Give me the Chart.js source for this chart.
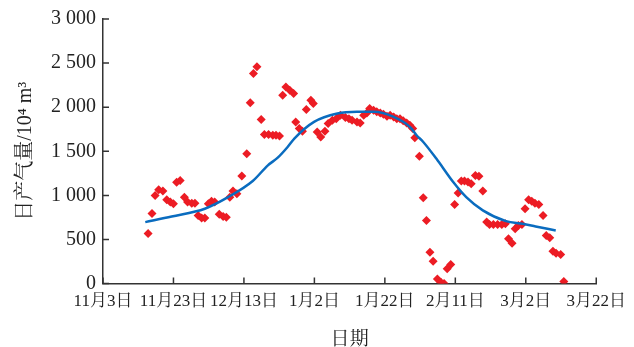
<!DOCTYPE html>
<html>
<head>
<meta charset="utf-8">
<script src="https://cdn.jsdelivr.net/npm/chart.js@4"></script>
<style>
    html, body { margin: 0; padding: 0; background: #fff; }
    #wrap { width: 634px; height: 347px; }
</style>
</head>
<body>
<div id="wrap"><canvas id="gasChart" width="634" height="347"></canvas></div>
<script>
// days counted from 11月3日
const xTickLabels = ['11月3日', '11月23日', '12月13日', '1月2日', '1月22日', '2月11日', '3月2日', '3月22日'];
const yTickLabels = ['0', '500', '1 000', '1 500', '2 000', '2 500', '3 000'];

// daily gas production, 10^4 m^3
const prodDays = [
    12.8, 13.9, 14.8, 15.8, 17.0, 18.1, 19.1, 20.0, 20.9, 21.9,
    23.1, 24.0, 25.2, 26.1, 27.0, 28.0, 28.9, 29.9, 30.8, 31.7,
    33.0, 34.1, 35.0, 36.0, 36.9, 38.0, 39.4, 40.8, 41.8, 42.7,
    43.7, 44.9, 45.8, 47.0, 48.2, 49.1, 50.1, 51.0, 51.9, 53.0,
    54.1, 54.7, 55.7, 56.6, 57.7, 59.0, 59.7, 60.8, 61.8, 63.0,
    63.9, 65.1, 66.2, 67.4, 68.8, 69.8, 70.7, 72.1, 73.0, 74.0,
    74.9, 75.7, 76.8, 77.7, 78.7, 79.6, 80.6, 81.5, 82.5, 83.4,
    84.3, 85.2, 86.2, 87.1, 87.9, 88.5, 89.8, 90.9, 91.8, 92.8,
    93.7, 94.9, 95.9, 96.8, 97.7, 98.7, 99.8, 100.8, 101.7, 102.6,
    103.6, 104.5, 105.7, 106.7, 107.8, 108.9, 109.7, 110.8, 112.0, 113.2,
    114.2, 115.1, 116.1, 117.0, 117.9, 118.9, 119.8, 120.8, 121.7, 122.6,
    123.7, 124.9, 125.8, 126.8, 127.7, 128.6, 129.9, 130.8
];
const prodValues = [
    568, 795, 1000, 1065, 1050, 950, 925, 905, 1150, 1170,
    980, 925, 910, 910, 773, 745, 745, 905, 935, 925,
    785, 760, 753, 980, 1050, 1020, 1220, 1473, 2050, 2383,
    2458, 1860, 1690, 1690, 1682, 1682, 1674, 2136, 2230, 2193,
    2155, 1833, 1758, 1727, 1974, 2080, 2042, 1720, 1663, 1727,
    1815, 1852, 1870, 1909, 1883, 1870, 1852, 1833, 1822, 1909,
    1935, 1985, 1966, 1947, 1935, 1920, 1898, 1909, 1890, 1870,
    1870, 1845, 1822, 1795, 1758, 1655, 1443, 974, 716, 356,
    253, 53, 15, 0, 167, 216, 898, 1026, 1163, 1163,
    1151, 1133, 1227, 1216, 1049, 697, 670, 670, 670, 670,
    678, 508, 458, 622, 659, 670, 849, 951, 935, 912,
    898, 773, 545, 519, 367, 344, 330, 23
];

// smoothed trend
const trendDays = [12.0, 19.5, 28.9, 35.5, 42.5, 46.8, 49.6, 52.4, 54.3, 59.9, 66.5, 72.1, 76.8, 82.5, 87.1, 89.0, 90.9, 94.6, 99.4, 103.1, 107.8, 114.4, 119.1, 122.8, 128.5];
const trendValues = [697, 761, 849, 980, 1163, 1341, 1428, 1549, 1644, 1833, 1928, 1947, 1947, 1890, 1777, 1682, 1606, 1417, 1151, 980, 830, 708, 678, 648, 602];

const fontFamily = '"Liberation Serif", "Noto Serif CJK SC", "Noto Sans CJK SC", serif';
const axisColor = '#333';

// small tick marks pointing into the plot
const innerTicks = {
    id: 'innerTicks',
    afterDraw(chart) {
        const ctx = chart.ctx;
        const xs = chart.scales.x;
        const ys = chart.scales.y;
        ctx.save();
        ctx.strokeStyle = axisColor;
        ctx.lineWidth = 1.5;
        ctx.beginPath();
        xs.ticks.forEach(t => {
            const px = xs.getPixelForValue(t.value);
            ctx.moveTo(px, ys.bottom);
            ctx.lineTo(px, ys.bottom - 6);
        });
        ys.ticks.forEach(t => {
            const py = ys.getPixelForValue(t.value);
            ctx.moveTo(xs.left, py);
            ctx.lineTo(xs.left + 6, py);
        });
        ctx.stroke();
        ctx.restore();
    }
};

const ctx = document.getElementById('gasChart').getContext('2d');

new Chart(ctx, {
    type: 'scatter',
    data: {
        datasets: [
            {
                label: '日产气量',
                data: prodDays.map((d, i) => ({ x: d, y: prodValues[i] })),
                pointStyle: 'rectRot',
                pointRadius: 4.5,
                backgroundColor: '#ec1c24',
                borderColor: '#ec1c24',
                borderWidth: 0,
                order: 2
            },
            {
                label: '趋势',
                data: trendDays.map((d, i) => ({ x: d, y: trendValues[i] })),
                showLine: true,
                pointRadius: 0,
                borderColor: '#0a6cbf',
                borderWidth: 2.5,
                tension: 0.4,
                cubicInterpolationMode: 'monotone',
                fill: false,
                order: 1
            }
        ]
    },
    options: {
        responsive: false,
        animation: false,
        layout: { padding: { left: 14, right: 24, top: 9, bottom: 0 } },
        plugins: {
            legend: { display: false },
            tooltip: { enabled: false }
        },
        scales: {
            x: {
                type: 'linear',
                min: 0,
                max: 140,
                border: { color: axisColor, width: 1.5 },
                grid: { display: false, drawTicks: false },
                ticks: {
                    stepSize: 20,
                    autoSkip: false,
                    maxRotation: 0,
                    padding: 8,
                    color: '#222',
                    font: { family: fontFamily, size: 17 },
                    callback: v => xTickLabels[v / 20]
                },
                title: {
                    display: true,
                    text: '日期',
                    color: '#222',
                    font: { family: fontFamily, size: 19, lineHeight: 1 },
                    padding: { top: 11, bottom: -3 }
                }
            },
            y: {
                min: 0,
                max: 3000,
                border: { color: axisColor, width: 1.5 },
                grid: { display: false, drawTicks: false },
                ticks: {
                    stepSize: 500,
                    padding: 7,
                    color: '#222',
                    font: { family: fontFamily, size: 20 },
                    callback: v => yTickLabels[v / 500]
                },
                title: {
                    display: true,
                    text: '日产气量/10⁴ m³',
                    color: '#222',
                    font: { family: fontFamily, size: 20 },
                    padding: { top: 0, bottom: 6 }
                }
            }
        }
    },
    plugins: [innerTicks]
});
</script>
</body>
</html>
